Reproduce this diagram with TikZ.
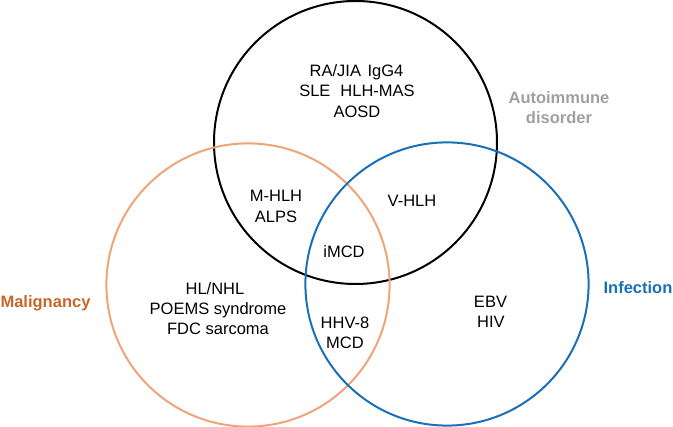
\documentclass[tikz,border=0pt]{standalone}
\usepackage{fontspec}
\setmainfont{Liberation Sans}
\definecolor{salmon}{HTML}{F0A47C}
\definecolor{maltext}{HTML}{C8662A}
\definecolor{infblue}{HTML}{1A70B6}
\definecolor{autogray}{HTML}{A0A0A0}
\begin{document}
\begin{tikzpicture}[x=1pt,y=1pt,
  lbl/.style={anchor=base,inner sep=0pt,font=\fontsize{16.5}{20}\selectfont},
  cat/.style={anchor=base,inner sep=0pt,font=\fontsize{16.5}{20}\selectfont\bfseries},
  ring/.style={line width=2pt}]
\useasboundingbox (0,0) rectangle (673,427);
\draw[ring,black] (355.5,284.5) circle (141.5);
\draw[ring,salmon] (248,142) circle (141.6);
\draw[ring,infblue] (447,143) circle (141.6);
% autoimmune region
\node[lbl] (t1) at (356.5,350) {RA/JIA\hspace{6.5pt}IgG4};
\node[lbl] (t2) at (357,330) {SLE\hspace{10pt}HLH-MAS};
\node[lbl] (t3) at (357,309.5) {AOSD};
\node[cat,text=autogray] (c1) at (559,323) {Autoimmune};
\node[cat,text=autogray] (c2) at (559,303) {disorder};
% overlaps
\node[lbl] (m1) at (276,225) {M-HLH};
\node[lbl] (m2) at (276,204.5) {ALPS};
\node[lbl] (v1) at (412,220) {V-HLH};
\node[lbl] (i1) at (344,169.5) {iMCD};
\node[lbl] (h1) at (345,98) {HHV-8};
\node[lbl] (h2) at (345,78) {MCD};
% malignancy
\node[lbl] (l1) at (215,132.5) {HL/NHL};
\node[lbl] (l2) at (218,112.5) {POEMS syndrome};
\node[lbl] (l3) at (218,92) {FDC sarcoma};
\node[cat,text=maltext] (c3) at (45.5,119) {Malignancy};
% infection
\node[lbl] (e1) at (490.5,119) {EBV};
\node[lbl] (e2) at (491,99) {HIV};
\node[cat,text=infblue] (c4) at (638,133) {Infection};
\end{tikzpicture}
\end{document}
